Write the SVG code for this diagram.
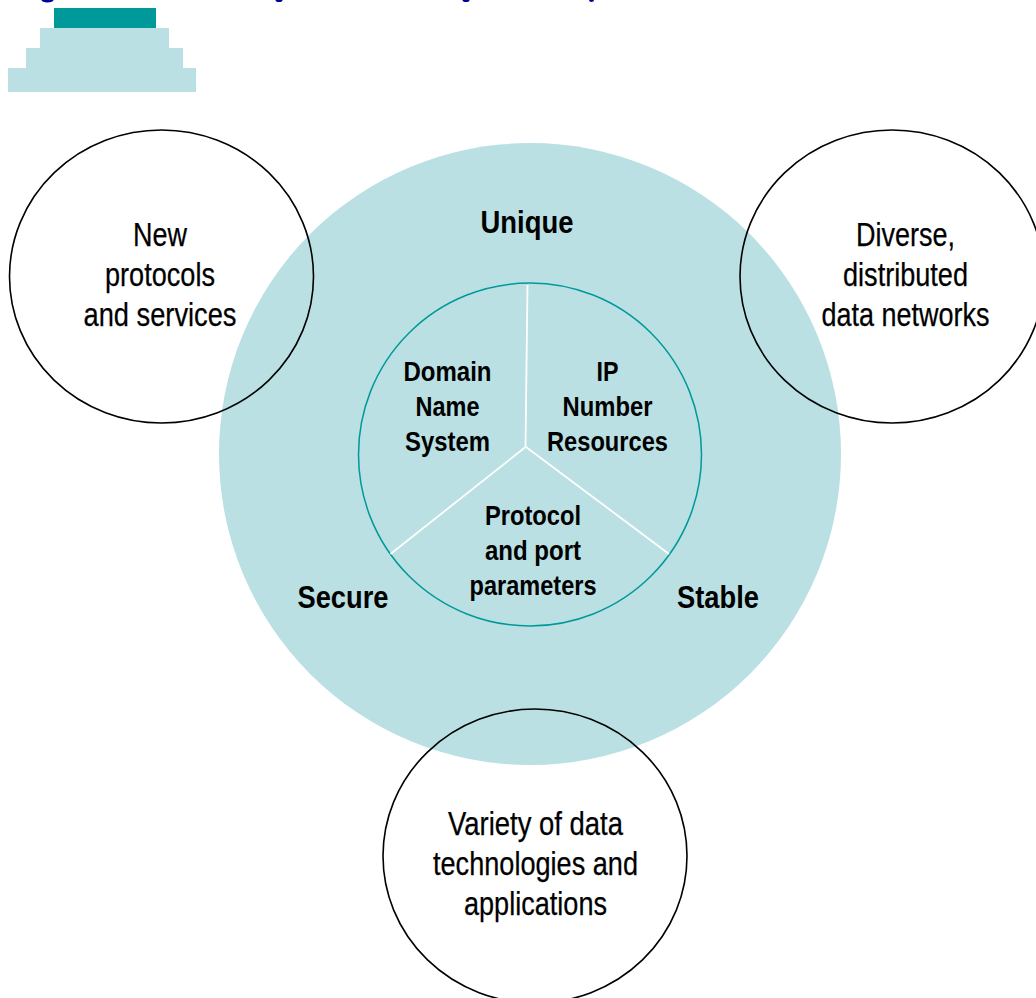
<svg xmlns="http://www.w3.org/2000/svg" width="1036" height="998" viewBox="0 0 1036 998">
<style>
text{font-family:"Liberation Sans",Arial,sans-serif;fill:#000;text-anchor:middle}
.r{font-size:33px;stroke:#000;stroke-width:.25}
.b{font-size:28px;font-weight:bold}
.l{font-size:32px;font-weight:bold}
.pale{fill:#bae0e3}
.ring{fill:none;stroke:#000;stroke-width:1.6}
.div{stroke:#fff;stroke-width:1.8;fill:none}
.frag{fill:#000099}
</style>
<rect width="1036" height="998" fill="#fff"/>
<g id="title-fragments">
<ellipse class="frag" cx="47.500" cy="0" rx="6" ry="2.500"/>
<ellipse class="frag" cx="279" cy="0" rx="3.500" ry="2"/>
<ellipse class="frag" cx="466" cy="0" rx="3.500" ry="2"/>
<ellipse class="frag" cx="591.500" cy="0" rx="2.500" ry="2"/>
</g>
<g id="pyramid-icon">
<rect class="pale" x="8" y="68" width="188" height="24"/>
<rect class="pale" x="26" y="48" width="157" height="20"/>
<rect class="pale" x="40" y="28" width="129" height="20"/>
<rect x="54" y="8" width="102" height="20" fill="#009999"/>
</g>
<g id="main-circle">
<ellipse class="pale" cx="530" cy="454" rx="311" ry="311"/>
<text class="l" x="527" y="232.500" textLength="93" lengthAdjust="spacingAndGlyphs">Unique</text>
<text class="l" x="343" y="607.500" textLength="91" lengthAdjust="spacingAndGlyphs">Secure</text>
<text class="l" x="718" y="607.500" textLength="82" lengthAdjust="spacingAndGlyphs">Stable</text>
</g>
<g id="inner-circle">
<circle cx="530" cy="454.500" r="171.500" fill="none" stroke="#009999" stroke-width="1.500"/>
</g>
<g id="connectors">
<path class="div" d="M527.500 285L525.500 447L390.500 554M526 447L669 554"/>
</g>
<g id="dns">
<text class="b" x="447.500" y="381" textLength="88" lengthAdjust="spacingAndGlyphs">Domain</text>
<text class="b" x="447.500" y="416" textLength="64" lengthAdjust="spacingAndGlyphs">Name</text>
<text class="b" x="447.500" y="450.500" textLength="85" lengthAdjust="spacingAndGlyphs">System</text>
</g>
<g id="ip">
<text class="b" x="607.500" y="381" textLength="22" lengthAdjust="spacingAndGlyphs">IP</text>
<text class="b" x="607.500" y="416" textLength="90" lengthAdjust="spacingAndGlyphs">Number</text>
<text class="b" x="607.500" y="450.500" textLength="121" lengthAdjust="spacingAndGlyphs">Resources</text>
</g>
<g id="protocol">
<text class="b" x="533" y="525" textLength="96" lengthAdjust="spacingAndGlyphs">Protocol</text>
<text class="b" x="533" y="560" textLength="96" lengthAdjust="spacingAndGlyphs">and port</text>
<text class="b" x="533" y="594.500" textLength="127" lengthAdjust="spacingAndGlyphs">parameters</text>
</g>
<g id="new-protocols">
<ellipse class="ring" cx="161.500" cy="276.500" rx="152" ry="146.500"/>
<text class="r" x="160" y="246" textLength="54" lengthAdjust="spacingAndGlyphs">New</text>
<text class="r" x="160" y="286" textLength="110" lengthAdjust="spacingAndGlyphs">protocols</text>
<text class="r" x="160" y="326" textLength="153" lengthAdjust="spacingAndGlyphs">and services</text>
</g>
<g id="diverse">
<ellipse class="ring" cx="892" cy="276.500" rx="152" ry="146.500"/>
<text class="r" x="905.500" y="246" textLength="99" lengthAdjust="spacingAndGlyphs">Diverse,</text>
<text class="r" x="905.500" y="286" textLength="125" lengthAdjust="spacingAndGlyphs">distributed</text>
<text class="r" x="905.500" y="326" textLength="168" lengthAdjust="spacingAndGlyphs">data networks</text>
</g>
<g id="variety">
<ellipse class="ring" cx="535" cy="856" rx="152" ry="147"/>
<text class="r" x="535.500" y="834.500" textLength="175" lengthAdjust="spacingAndGlyphs">Variety of data</text>
<text class="r" x="535.500" y="874.500" textLength="205" lengthAdjust="spacingAndGlyphs">technologies and</text>
<text class="r" x="535.500" y="914.500" textLength="143" lengthAdjust="spacingAndGlyphs">applications</text>
</g>
</svg>
